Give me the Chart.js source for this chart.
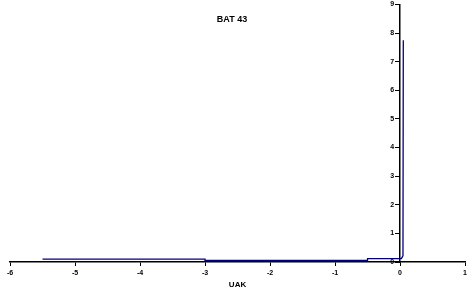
<!DOCTYPE html>
<html>
<head>
<meta charset="utf-8">
<script src="https://cdn.jsdelivr.net/npm/chart.js@4/dist/chart.umd.min.js"></script>
<style>
  html, body { margin: 0; padding: 0; background: #fff; overflow: hidden; }
  #wrap { width: 470px; height: 291px; position: relative; }
</style>
</head>
<body>
<div id="wrap"><canvas id="graphique"></canvas></div>
<script>
// Données de la courbe (UAK en x, valeur en y)
const uak = [-5.5, -3, -3, -0.5, -0.5, 0.02, 0.045, 0.05]
const valeurs = [0.1, 0.1, 0.06, 0.06, 0.12, 0.12, 0.22, 7.75]
const titre = "BAT 43"
const titreX = "UAK"

const points = uak.map((x, i) => ({ x: x, y: valeurs[i] }))

// Titre dessiné dans la zone du graphique
const titrePlugin = {
    id: "titreBat",
    afterDraw(chart) {
        const ctx = chart.ctx
        ctx.save()
        ctx.font = "bold 9px 'Liberation Sans', Arial, sans-serif"
        ctx.fillStyle = "#000"
        ctx.textAlign = "center"
        ctx.textBaseline = "middle"
        ctx.fillText(titre, 232, 20)
        ctx.restore()
    }
}

const data = {
    datasets: [{
        label: titre,
        data: points,
        borderColor: "#000080",
        borderWidth: 1.3,
        pointRadius: 0,
        tension: 0,
        fill: false,
    }],
}

const tickFont = { family: "'Liberation Sans', Arial, sans-serif", size: 7, weight: "bold" }

const config = {
    type: "line",
    data: data,
    options: {
        responsive: true,
        maintainAspectRatio: false,
        animation: false,
        layout: { padding: { left: 10, right: 0, top: 0, bottom: 0 } },
        plugins: {
            legend: { display: false },
            tooltip: { enabled: false },
        },
        scales: {
            x: {
                type: "linear",
                min: -6,
                max: 1,
                ticks: { stepSize: 1, color: "#000", font: tickFont, padding: 3 },
                grid: { drawOnChartArea: false, drawTicks: true, tickLength: 4, color: "#000" },
                border: { color: "#000", width: 1.5 },
                title: { display: true, text: titreX, color: "#000", font: { family: "'Liberation Sans', Arial, sans-serif", size: 8, weight: "bold" }, padding: { top: 0, bottom: 1 } },
            },
            y: {
                type: "linear",
                position: { x: 0 },
                min: 0,
                max: 9,
                ticks: { stepSize: 1, color: "#000", font: { ...tickFont, lineHeight: 0.4 }, callback: v => v + "   " },
                grid: { drawOnChartArea: false, drawTicks: true, tickLength: 4, color: "#000" },
                border: { color: "#000", width: 1.5 },
            },
        },
    },
    plugins: [titrePlugin],
}

new Chart(document.querySelector("#graphique"), config)
</script>
</body>
</html>
